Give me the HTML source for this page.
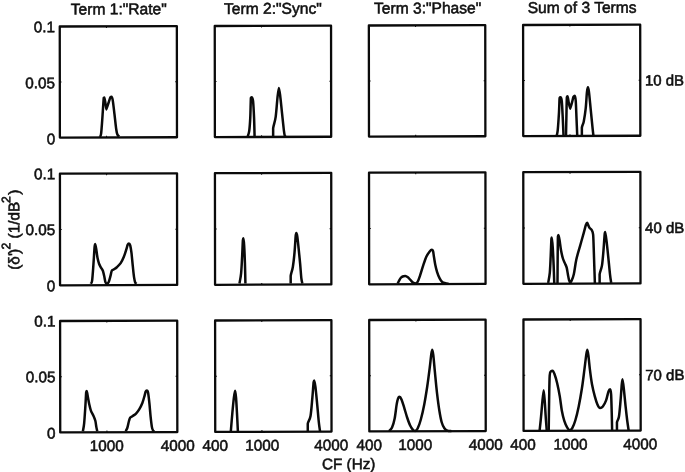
<!DOCTYPE html>
<html><head><meta charset="utf-8"><title>Figure</title>
<style>
html,body{margin:0;padding:0;background:#fff;}
body{width:685px;height:472px;overflow:hidden;}
svg{display:block;}
text{font-family:"Liberation Sans",sans-serif;fill:#111;stroke:#111;stroke-width:0.55;}
.ax{fill:none;stroke:#0a0a0a;stroke-width:2.3;stroke-linejoin:round;}
.tk{fill:none;stroke:#0a0a0a;stroke-width:1;}
.cv{fill:none;stroke:#0a0a0a;stroke-width:2.5;stroke-linejoin:round;stroke-linecap:butt;}
</style></head><body>
<svg width="685" height="472" viewBox="0 0 685 472">
<rect x="0" y="0" width="685" height="472" fill="#fff"/>
<g transform="matrix(1,-0.0032,0.0012,1,-0.283,1.096)">
<rect class="ax" x="60.0" y="25.6" width="117.1" height="111.1"/>
<path class="tk" d="M60.0,81.1h1.7 M177.1,81.1h-1.7 M106.7,25.6v1.7 M106.7,136.7v-1.7"/>
<rect class="ax" x="215.0" y="25.6" width="116.3" height="111.1"/>
<path class="tk" d="M215.0,81.1h1.7 M331.3,81.1h-1.7 M261.7,25.6v1.7 M261.7,136.7v-1.7"/>
<rect class="ax" x="369.1" y="25.6" width="116.4" height="111.1"/>
<path class="tk" d="M369.1,81.1h1.7 M485.55,81.1h-1.7 M415.8,25.6v1.7 M415.8,136.7v-1.7"/>
<rect class="ax" x="523.35" y="25.6" width="117.1" height="111.1"/>
<path class="tk" d="M523.35,81.1h1.7 M640.5,81.1h-1.7 M570.1,25.6v1.7 M570.1,136.7v-1.7"/>
<rect class="ax" x="60.0" y="172.8" width="117.1" height="111.6"/>
<path class="tk" d="M60.0,228.6h1.7 M177.1,228.6h-1.7 M106.7,172.8v1.7 M106.7,284.4v-1.7"/>
<rect class="ax" x="215.0" y="172.8" width="116.3" height="111.6"/>
<path class="tk" d="M215.0,228.6h1.7 M331.3,228.6h-1.7 M261.7,172.8v1.7 M261.7,284.4v-1.7"/>
<rect class="ax" x="369.1" y="172.8" width="116.4" height="111.6"/>
<path class="tk" d="M369.1,228.6h1.7 M485.55,228.6h-1.7 M415.8,172.8v1.7 M415.8,284.4v-1.7"/>
<rect class="ax" x="523.35" y="172.8" width="117.1" height="111.6"/>
<path class="tk" d="M523.35,228.6h1.7 M640.5,228.6h-1.7 M570.1,172.8v1.7 M570.1,284.4v-1.7"/>
<rect class="ax" x="60.0" y="320.1" width="117.1" height="111.4"/>
<path class="tk" d="M60.0,375.8h1.7 M177.1,375.8h-1.7 M106.7,320.1v1.7 M106.7,431.5v-1.7"/>
<rect class="ax" x="215.0" y="320.1" width="116.3" height="111.4"/>
<path class="tk" d="M215.0,375.8h1.7 M331.3,375.8h-1.7 M261.7,320.1v1.7 M261.7,431.5v-1.7"/>
<rect class="ax" x="369.1" y="320.1" width="116.4" height="111.4"/>
<path class="tk" d="M369.1,375.8h1.7 M485.55,375.8h-1.7 M415.8,320.1v1.7 M415.8,431.5v-1.7"/>
<rect class="ax" x="523.35" y="320.1" width="117.1" height="111.4"/>
<path class="tk" d="M523.35,375.8h1.7 M640.5,375.8h-1.7 M570.1,320.1v1.7 M570.1,431.5v-1.7"/>
</g>
<path class="cv" d="M99.9,136.85 C100.09,136.37 100.68,136.75 101.07,133.94 C101.46,131.12 101.79,125.98 102.24,119.96 C102.69,113.94 103.36,101.55 103.75,97.82 C104.14,97.58 104.23,97.58 104.57,97.58 C104.91,97.58 106.17,109.47 106.31,109.47 C106.45,109.47 107.96,104.52 108.64,102.48 C109.32,100.44 109.90,98.21 110.39,97.24 C110.88,96.65 111.25,96.65 111.56,96.65 C111.87,96.65 112.23,97.24 112.72,100.15 C113.20,103.06 113.89,109.27 114.47,114.13 C115.05,118.98 115.73,125.88 116.22,129.28 C116.70,132.68 116.89,133.32 117.38,134.52 C117.86,135.72 118.84,136.17 119.13,136.5"/>
<path class="cv" d="M247.71,136.57 C247.97,135.62 248.82,133.92 249.24,130.85 C249.66,127.78 249.97,123.65 250.25,118.14 C250.53,112.63 250.68,101.30 250.89,97.8 C251.10,97.16 251.24,97.16 251.53,97.16 C251.82,97.16 252.63,97.47 253.05,100.97 C253.47,104.47 253.81,112.21 254.07,118.14 C254.32,124.07 254.50,133.50 254.58,136.57"/>
<path class="cv" d="M273.14,136.57 C273.14,135.19 273.14,131.59 273.14,128.31 C273.56,125.03 274.94,122.16 275.68,116.86 C276.42,111.56 277.05,101.36 277.58,96.53 C278.11,91.70 278.78,87.88 278.86,87.88 C278.94,87.88 279.60,91.06 280.13,95.25 C280.66,99.44 281.39,107.12 282.03,113.05 C282.66,118.98 283.47,127.04 283.94,130.85 C284.41,134.66 284.51,134.94 284.83,135.93 C285.15,136.82 285.68,136.67 285.85,136.82"/>
<path class="cv" d="M556.44,136.63 C556.65,135.57 557.29,134.31 557.71,130.28 C558.13,126.25 558.66,117.88 558.98,112.48 C559.30,107.08 559.37,100.40 559.62,97.86 C559.88,97.23 560.22,97.23 560.51,97.23 C560.80,97.23 561.40,97.44 561.78,101.04 C562.16,104.64 562.50,112.91 562.8,118.84 C563.10,124.77 563.43,133.66 563.56,136.63"/>
<path class="cv" d="M565.97,136.63 C566.04,133.66 566.21,125.41 566.36,118.84 C566.51,112.27 566.65,101.00 566.86,97.23 C567.07,96.21 567.36,96.21 567.63,96.21 C567.90,96.21 568.48,101.50 568.9,103.58 C569.32,105.66 570.08,108.67 570.17,108.67 C570.26,108.67 571.12,105.59 571.69,103.58 C572.26,101.57 573.07,97.90 573.6,96.59 C574.13,95.70 574.58,95.70 574.87,95.7 C575.16,95.70 575.48,97.18 575.76,101.04 C576.04,104.90 576.27,112.91 576.53,118.84 C576.78,124.77 577.16,133.66 577.29,136.63"/>
<path class="cv" d="M581.86,136.63 C581.86,135.15 581.86,130.27 581.86,127.73 C582.18,125.19 583.13,124.56 583.77,121.38 C584.41,118.20 585.15,113.54 585.68,108.67 C586.21,103.80 586.57,95.70 586.95,92.14 C587.33,88.58 587.90,87.31 587.97,87.31 C588.04,87.31 588.51,88.37 588.98,92.14 C589.45,95.91 590.14,103.80 590.76,109.94 C591.38,116.08 592.20,124.56 592.67,129.01 C593.14,133.46 593.41,135.36 593.56,136.63"/>
<path class="cv" d="M90.81,283.73 C91.02,283.26 91.66,283.73 92.08,280.93 C92.50,277.92 92.93,271.40 93.35,265.68 C93.77,259.96 94.30,250.21 94.62,246.61 C94.94,244.07 95.19,244.07 95.25,244.07 C95.31,244.07 95.89,246.82 96.27,249.15 C96.65,251.48 97.07,255.61 97.54,258.05 C98.01,260.49 98.50,262.18 99.07,263.77 C99.64,265.36 100.33,266.41 100.97,267.58 C101.61,268.75 102.35,269.38 102.88,270.76 C103.41,272.14 103.73,273.94 104.15,275.85 C104.57,277.76 105.00,280.89 105.42,282.2 C105.84,283.51 106.27,283.73 106.69,283.73 C107.11,283.73 107.96,283.51 108.6,282.2 C109.24,280.89 109.98,277.76 110.51,275.85 C111.04,273.94 111.25,271.82 111.78,270.76 C112.31,269.70 112.84,270.08 113.69,269.49 C114.54,268.90 115.69,268.26 116.86,267.2 C118.03,266.14 119.51,264.88 120.68,263.14 C121.85,261.40 122.91,259.11 123.86,256.78 C124.81,254.45 125.77,251.16 126.4,249.15 C127.04,247.14 127.25,245.65 127.67,244.7 C128.09,243.75 128.60,243.43 128.94,243.43 C129.28,243.43 129.79,243.75 130.21,245.34 C130.63,246.93 131.06,249.58 131.48,252.97 C131.90,256.36 132.32,261.66 132.75,265.68 C133.18,269.70 133.60,274.26 134.03,277.12 C134.46,279.98 134.88,281.74 135.3,282.84 C135.72,283.73 136.36,283.58 136.57,283.73"/>
<path class="cv" d="M239.45,283.47 C239.72,281.78 240.66,277.76 241.1,273.31 C241.54,268.86 241.82,262.29 242.12,256.78 C242.42,251.27 242.67,243.32 242.88,240.25 C243.09,238.35 243.35,238.35 243.39,238.35 C243.43,238.35 243.90,241.21 244.15,245.34 C244.41,249.47 244.71,256.78 244.92,263.14 C245.13,269.50 245.34,280.08 245.42,283.47"/>
<path class="cv" d="M290.68,283.47 C290.68,282.20 290.68,278.60 290.68,275.85 C291.04,273.10 292.20,270.76 292.84,266.95 C293.47,263.14 294.00,258.27 294.49,252.97 C294.98,247.67 295.44,238.52 295.76,235.17 C296.08,232.88 296.35,232.88 296.4,232.88 C296.45,232.88 296.93,233.94 297.29,236.44 C297.65,238.94 298.10,243.43 298.56,247.88 C299.02,252.33 299.61,258.06 300.08,263.14 C300.55,268.22 300.98,275.00 301.36,278.39 C301.74,281.78 302.20,282.62 302.37,283.47"/>
<path class="cv" d="M397.71,283.47 C397.92,283.05 398.45,281.88 398.98,280.93 C399.51,279.98 400.15,278.53 400.89,277.75 C401.63,276.97 402.69,276.50 403.43,276.23 C404.17,276.10 404.75,276.10 405.34,276.1 C405.93,276.10 407.03,276.73 407.88,277.37 C408.73,278.01 409.57,279.07 410.42,279.92 C411.27,280.77 412.12,281.87 412.97,282.46 C413.82,283.05 414.92,283.47 415.51,283.47 C416.10,283.47 416.68,283.47 417.42,282.2 C418.16,280.93 419.01,278.60 419.96,275.85 C420.91,273.10 422.08,268.86 423.14,265.68 C424.20,262.50 425.25,259.11 426.31,256.78 C427.37,254.45 428.58,252.85 429.49,251.69 C430.40,250.53 431.31,249.79 431.78,249.79 C432.25,249.79 432.69,249.90 433.05,251.06 C433.41,252.22 433.58,254.55 433.94,256.78 C434.30,259.00 434.68,261.87 435.21,264.41 C435.74,266.95 436.38,269.70 437.12,272.03 C437.86,274.36 438.81,276.74 439.66,278.39 C440.51,280.04 441.25,281.14 442.2,281.95 C443.15,282.75 444.32,282.92 445.38,283.22 C446.44,283.52 448.03,283.65 448.56,283.73"/>
<path class="cv" d="M548.16,282.92 C548.43,281.24 549.37,277.24 549.79,272.84 C550.21,268.44 550.41,262.21 550.68,256.53 C550.95,250.84 551.22,241.89 551.42,238.73 C551.62,237.54 551.82,237.54 551.86,237.54 C551.90,237.54 552.45,242.98 552.75,247.63 C553.05,252.28 553.39,259.54 553.64,265.42 C553.89,271.30 554.14,280.00 554.24,282.92"/>
<path class="cv" d="M557.5,282.92 C557.52,279.01 557.58,267.23 557.65,259.49 C557.72,251.75 557.79,240.58 557.94,236.5 C558.09,235.02 558.49,235.02 558.54,235.02 C558.59,235.02 559.16,237.62 559.58,240.21 C560.00,242.81 560.49,247.50 561.06,250.59 C561.63,253.68 562.30,256.52 562.99,258.75 C563.68,260.98 564.59,262.46 565.21,263.94 C565.83,265.42 566.25,265.92 566.69,267.65 C567.13,269.38 567.48,272.22 567.88,274.32 C568.28,276.42 568.70,278.89 569.07,280.25 C569.44,281.61 569.79,282.48 570.11,282.48 C570.43,282.48 570.82,282.36 571.44,281.0 C572.06,279.64 572.99,277.90 573.81,274.32 C574.62,270.74 575.29,264.19 576.33,259.49 C577.37,254.79 578.80,250.59 580.04,246.14 C581.28,241.69 582.76,236.38 583.75,232.8 C584.74,229.22 585.40,226.32 585.97,224.64 C586.54,222.96 586.84,222.71 587.16,222.71 C587.48,222.71 587.93,224.49 588.35,225.38 C588.77,226.27 589.14,227.31 589.68,228.05 C590.22,228.79 591.04,228.79 591.61,229.83 C592.18,230.87 592.74,231.31 593.09,234.28 C593.44,237.25 593.49,242.44 593.69,247.63 C593.89,252.82 594.08,259.54 594.28,265.42 C594.48,271.30 594.77,280.00 594.87,282.92"/>
<path class="cv" d="M599.62,282.92 C599.62,281.49 599.62,277.24 599.62,274.32 C600.01,271.40 601.35,269.38 601.99,265.42 C602.63,261.47 603.03,255.78 603.47,250.59 C603.91,245.40 604.36,237.37 604.66,234.28 C604.96,232.06 605.19,232.06 605.25,232.06 C605.31,232.06 605.95,236.13 606.44,240.21 C606.94,244.29 607.63,250.84 608.22,256.53 C608.81,262.21 609.50,269.92 610.0,274.32 C610.50,278.72 610.99,281.49 611.19,282.92"/>
<path class="cv" d="M82.88,431.19 C83.09,429.88 83.73,427.59 84.15,423.31 C84.57,419.03 85.08,410.70 85.42,405.51 C85.76,400.32 85.96,394.60 86.19,392.16 C86.42,390.89 86.77,390.89 86.82,390.89 C86.87,390.89 87.31,393.75 87.71,395.97 C88.11,398.20 88.71,401.80 89.24,404.24 C89.77,406.68 90.19,408.68 90.89,410.59 C91.59,412.50 92.69,413.99 93.43,415.68 C94.17,417.38 94.85,418.85 95.34,420.76 C95.83,422.67 96.04,425.38 96.36,427.12 C96.68,428.86 97.10,430.51 97.25,431.19"/>
<path class="cv" d="M125.59,431.19 C125.89,430.62 126.80,429.49 127.37,427.75 C127.94,426.01 128.54,422.45 129.03,420.76 C129.52,419.06 129.67,418.38 130.3,417.58 C130.94,416.77 131.89,416.61 132.84,415.93 C133.79,415.25 134.96,414.62 136.02,413.52 C137.08,412.42 138.13,411.08 139.19,409.32 C140.25,407.56 141.46,405.30 142.37,402.97 C143.28,400.64 144.11,397.25 144.66,395.34 C145.21,393.43 145.32,392.33 145.68,391.53 C146.04,390.72 146.50,390.51 146.82,390.51 C147.14,390.51 147.67,390.72 148.09,392.8 C148.51,394.88 148.94,398.95 149.36,402.97 C149.79,407.00 150.21,412.93 150.64,416.95 C151.06,420.97 151.49,424.83 151.91,427.12 C152.33,429.41 152.76,430.00 153.18,430.68 C153.60,431.19 154.24,431.11 154.45,431.19"/>
<path class="cv" d="M230.82,431.31 C231.08,428.25 231.85,418.54 232.36,412.92 C232.87,407.30 233.43,401.29 233.89,397.59 C234.35,393.88 235.05,390.69 235.12,390.69 C235.19,390.69 235.73,393.88 236.04,397.59 C236.35,401.29 236.65,407.30 236.96,412.92 C237.27,418.54 237.73,428.25 237.88,431.31"/>
<path class="cv" d="M307.77,431.31 C307.77,430.03 307.77,426.20 307.77,423.65 C308.23,421.10 309.76,420.33 310.53,415.99 C311.30,411.65 311.86,403.21 312.37,397.59 C312.88,391.97 313.29,385.12 313.6,382.26 C313.91,380.42 314.15,380.42 314.21,380.42 C314.27,380.42 314.93,382.72 315.44,386.86 C315.95,391.00 316.72,399.38 317.28,405.26 C317.84,411.14 318.35,417.78 318.81,422.12 C319.27,426.46 319.84,429.78 320.04,431.31"/>
<path class="cv" d="M389.03,430.97 C389.53,430.40 391.10,429.63 392.04,427.55 C392.98,425.47 393.89,422.36 394.66,418.5 C395.43,414.64 396.10,407.77 396.67,404.41 C397.24,401.06 397.61,399.64 398.08,398.37 C398.55,397.10 399.03,396.76 399.49,396.76 C399.95,396.76 400.73,397.60 401.5,399.38 C402.27,401.16 403.18,404.41 404.12,407.43 C405.06,410.45 406.13,414.47 407.14,417.49 C408.15,420.51 409.15,423.43 410.16,425.54 C411.17,427.65 412.34,429.26 413.18,430.17 C414.02,430.97 414.60,430.97 415.19,430.97 C415.78,430.97 416.67,430.47 417.61,428.56 C418.55,426.65 419.72,423.52 420.83,419.5 C421.94,415.48 423.18,409.95 424.25,404.41 C425.32,398.88 426.37,392.33 427.27,386.29 C428.17,380.25 429.01,373.55 429.68,368.18 C430.35,362.81 430.85,357.18 431.29,354.09 C431.73,351.00 432.23,349.66 432.3,349.66 C432.37,349.66 432.87,351.34 433.31,355.1 C433.75,358.86 434.32,366.00 434.92,372.2 C435.52,378.40 436.19,385.96 436.93,392.33 C437.67,398.70 438.53,405.41 439.34,410.44 C440.14,415.47 440.92,419.57 441.76,422.52 C442.60,425.47 443.44,426.82 444.38,428.16 C445.32,429.50 446.22,430.07 447.39,430.57 C448.56,431.07 450.75,431.08 451.42,431.18"/>
<path class="cv" d="M539.66,430.17 C539.89,427.89 540.60,421.45 541.07,416.48 C541.54,411.51 542.04,404.74 542.48,400.38 C542.92,396.02 543.62,390.32 543.69,390.32 C543.76,390.32 544.36,396.02 544.69,400.38 C545.03,404.74 545.36,411.51 545.7,416.48 C546.04,421.45 546.54,427.89 546.71,430.17"/>
<path class="cv" d="M548.72,430.17 C548.79,425.21 548.95,409.54 549.12,400.38 C549.29,391.22 549.38,380.08 549.72,375.22 C550.06,371.20 550.66,371.94 551.13,371.2 C551.60,370.79 552.08,370.79 552.54,370.79 C553.00,370.79 553.79,372.14 554.56,374.22 C555.33,376.30 556.30,379.58 557.17,383.27 C558.04,386.96 559.02,391.83 559.79,396.36 C560.56,400.89 561.06,406.42 561.8,410.44 C562.54,414.46 563.31,417.66 564.22,420.51 C565.13,423.36 566.30,425.94 567.24,427.55 C568.18,429.16 569.18,430.17 569.85,430.17 C570.52,430.17 571.36,429.77 572.27,428.16 C573.18,426.55 574.22,424.13 575.29,420.51 C576.36,416.89 577.60,411.79 578.71,406.42 C579.82,401.05 580.99,394.35 581.93,388.31 C582.87,382.27 583.60,375.89 584.34,370.19 C585.08,364.49 585.86,357.51 586.36,354.09 C586.86,350.67 587.29,349.66 587.36,349.66 C587.43,349.66 587.93,351.68 588.37,355.1 C588.81,358.52 589.38,365.33 589.98,370.19 C590.58,375.05 591.19,379.92 591.99,384.28 C592.79,388.64 593.90,393.00 594.81,396.36 C595.72,399.72 596.56,402.47 597.43,404.41 C598.30,406.36 599.32,408.03 600.04,408.03 C600.76,408.03 601.85,407.69 602.86,406.42 C603.87,405.15 605.14,402.90 606.08,400.38 C607.02,397.86 607.83,393.16 608.5,391.32 C609.17,389.48 609.76,389.31 610.11,389.31 C610.46,389.31 610.84,390.48 611.11,394.34 C611.38,398.20 611.55,406.49 611.72,412.46 C611.89,418.43 612.05,427.22 612.12,430.17"/>
<path class="cv" d="M616.95,430.17 C616.95,428.89 616.95,424.80 616.95,422.52 C617.29,420.24 618.36,420.17 618.96,416.48 C619.56,412.79 620.10,405.75 620.57,400.38 C621.04,395.01 621.44,387.80 621.78,384.28 C622.12,380.76 622.51,379.25 622.58,379.25 C622.65,379.25 623.29,383.78 623.79,388.31 C624.29,392.84 625.03,401.05 625.6,406.42 C626.17,411.79 626.71,416.55 627.21,420.51 C627.71,424.47 628.38,428.56 628.62,430.17"/>
<g transform="matrix(1,-0.0032,0.0012,1,-0.283,1.096)">
<text x="119.1" y="13.6" font-size="15.6" text-anchor="middle">Term 1:&quot;Rate&quot;</text>
<text x="273.2" y="13.6" font-size="15.6" text-anchor="middle">Term 2:&quot;Sync&quot;</text>
<text x="427.9" y="13.6" font-size="15.6" text-anchor="middle">Term 3:&quot;Phase&quot;</text>
<text x="582.4" y="13.6" font-size="15.6" text-anchor="middle">Sum of 3 Terms</text>
<text x="55.3" y="31.2" font-size="15.3" text-anchor="end">0.1</text>
<text x="55.3" y="87.3" font-size="15.3" text-anchor="end">0.05</text>
<text x="55.3" y="143.3" font-size="15.3" text-anchor="end">0</text>
<text x="55.3" y="178.3" font-size="15.3" text-anchor="end">0.1</text>
<text x="55.3" y="234.1" font-size="15.3" text-anchor="end">0.05</text>
<text x="55.3" y="290.3" font-size="15.3" text-anchor="end">0</text>
<text x="55.3" y="325.6" font-size="15.3" text-anchor="end">0.1</text>
<text x="55.3" y="381.3" font-size="15.3" text-anchor="end">0.05</text>
<text x="55.3" y="437.6" font-size="15.3" text-anchor="end">0</text>
<text x="645.1" y="86.5" font-size="15.0">10 dB</text>
<text x="645.1" y="234.0" font-size="15.0">40 dB</text>
<text x="645.1" y="381.2" font-size="15.0">70 dB</text>
<text x="106.6" y="450.3" font-size="15.3" text-anchor="middle">1000</text>
<text x="177.5" y="450.3" font-size="15.3" text-anchor="middle">4000</text>
<text x="214.9" y="450.3" font-size="15.3" text-anchor="middle">400</text>
<text x="262" y="450.3" font-size="15.3" text-anchor="middle">1000</text>
<text x="331" y="450.3" font-size="15.3" text-anchor="middle">4000</text>
<text x="369" y="450.3" font-size="15.3" text-anchor="middle">400</text>
<text x="415" y="450.3" font-size="15.3" text-anchor="middle">1000</text>
<text x="485.6" y="450.3" font-size="15.3" text-anchor="middle">4000</text>
<text x="522.8" y="450.3" font-size="15.3" text-anchor="middle">400</text>
<text x="570.2" y="450.3" font-size="15.3" text-anchor="middle">1000</text>
<text x="640.1" y="450.3" font-size="15.3" text-anchor="middle">4000</text>
<text x="348.4" y="469.2" font-size="15.3" text-anchor="middle">CF (Hz)</text>
<text transform="rotate(-90)"><tspan x="-268.7" y="19.2" font-size="15.3">(δ'</tspan><tspan x="-253.0" y="19.2" font-size="15.3">)</tspan><tspan x="-248.4" y="10.2" font-size="12.3">2 </tspan><tspan x="-237.4" y="19.2" font-size="15.3">(1/dB</tspan><tspan x="-201.9" y="10.2" font-size="12.3">2</tspan><tspan x="-193.7" y="19.2" font-size="15.3">)</tspan></text>
</g>
</svg></body></html>
